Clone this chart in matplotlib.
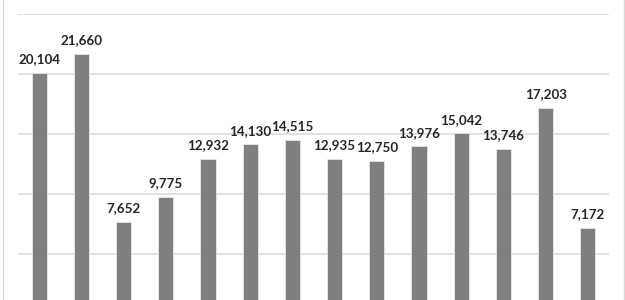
import matplotlib.pyplot as plt
from matplotlib.lines import Line2D

# values, left to right
values = [20104, 21660, 7652, 9775, 12932, 14130, 14515, 12935, 12750, 13976, 15042, 13746, 17203, 7172]
labels = ["{:,}".format(v) for v in values]
grid_ticks = [5000, 10000, 15000, 20000, 25000]


def main():
    fig = plt.figure(figsize=(6.25, 3.0), dpi=100)
    fig.patch.set_facecolor("white")

    # axes extends below the picture, the zero line is cut off like in the reference
    ax = fig.add_axes([18 / 625, -14 / 300, 591 / 625, 300 / 300])
    ax.set_xlim(-0.5, len(values) - 0.5)
    ax.set_ylim(0, 25000)

    for t in grid_ticks:
        ax.axhline(t, color="#d9d9d9", lw=1.1, zorder=0)

    x = range(len(values))
    ax.bar(x, values, width=0.36, color="#7f7f7f", edgecolor="#e6e6e6", linewidth=0.6, zorder=2)

    for xi, v, lab in zip(x, values, labels):
        ax.annotate(lab, (xi, v), xytext=(0, 5.5), textcoords="offset points",
                    ha="center", va="bottom", fontsize=9.6, fontweight="bold",
                    family="Lato", color="#262626")

    ax.set_xticks([])
    ax.set_yticks([])
    for s in ax.spines.values():
        s.set_visible(False)

    # thin chart frame at the left and right edges
    for px in (2.5, 623.5):
        fig.add_artist(Line2D([px / 625, px / 625], [0, 1], color="#d9d9d9", lw=1.0))

    fig.savefig("out.png", dpi=100)


if __name__ == '__main__':
    main()
